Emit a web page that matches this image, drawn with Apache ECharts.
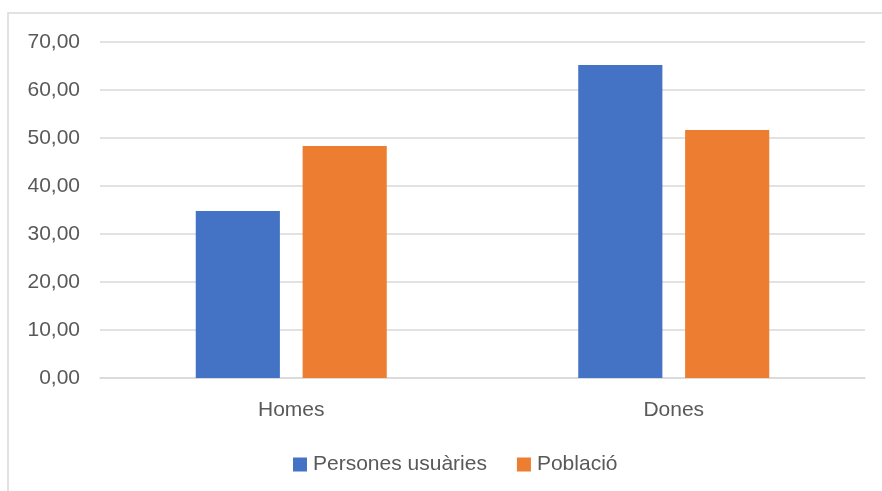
<!DOCTYPE html>
<html><head><meta charset="utf-8">
<script src="https://cdn.jsdelivr.net/npm/echarts@6/dist/echarts.min.js"></script>
<style>html,body{margin:0;padding:0;background:#fff}#c{width:882px;height:491px}</style>
</head><body><div id="c"></div>
<script>
const categories = ['Homes', 'Dones'];
const seriesNames = ['Persones usuàries', 'Població'];
const usuaries = [34.79, 65.21];
const poblacio = [48.33, 51.67];
const yMin = 0, yMax = 70, yStep = 10;

const font = 'Liberation Sans';
const chart = echarts.init(document.getElementById('c'), null, {renderer: 'canvas'});
chart.setOption({
  animation: false,
  backgroundColor: '#fff',
  graphic: [{
    type: 'polyline', silent: true,
    shape: {points: [[8, 491], [8, 13], [882, 13]]},
    style: {stroke: '#D9D9D9', lineWidth: 1.5, fill: null}
  }],
  grid: {left: 100, right: 17, top: 42, bottom: 113, containLabel: false},
  xAxis: {
    type: 'category', data: categories,
    axisLine: {lineStyle: {color: '#D9D9D9', width: 1.5}},
    axisTick: {show: false},
    axisLabel: {color: '#595959', fontFamily: font, fontSize: 21, margin: 22}
  },
  yAxis: {
    type: 'value', min: yMin, max: yMax, interval: yStep,
    axisLine: {show: false}, axisTick: {show: false},
    splitLine: {lineStyle: {color: '#D9D9D9', width: 1.5}},
    axisLabel: {color: '#595959', fontFamily: font, fontSize: 21, margin: 20,
      formatter: v => v.toFixed(2).replace('.', ',')}
  },
  legend: {
    bottom: 11, left: 288, itemWidth: 14, itemHeight: 14, itemGap: 30,
    icon: 'rect',
    textStyle: {color: '#595959', fontFamily: font, fontSize: 21, padding: [0,0,0,1]},
    data: seriesNames
  },
  series: [
    {name: seriesNames[0], type: 'bar', data: usuaries, barWidth: '22%', barGap: '27%',
     itemStyle: {color: '#4472C4'}},
    {name: seriesNames[1], type: 'bar', data: poblacio, barWidth: '22%', barGap: '27%',
     itemStyle: {color: '#ED7D31'}}
  ]
});
</script></body></html>
